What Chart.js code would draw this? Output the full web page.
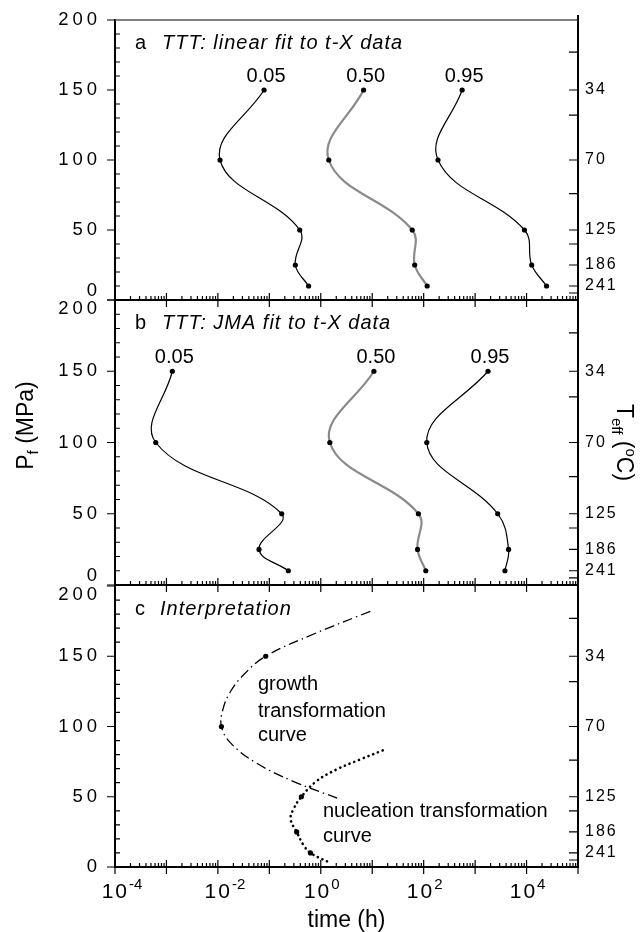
<!DOCTYPE html>
<html><head><meta charset="utf-8">
<script src="https://cdn.jsdelivr.net/npm/chart.js@4"></script>
<style>
html,body{margin:0;padding:0;background:#fff;width:641px;height:932px;overflow:hidden;position:relative}
canvas{position:absolute;left:0}
</style></head>
<body>
<canvas id="ca" width="641" height="330" style="top:0px;width:641px;height:330px"></canvas>
<canvas id="cb" width="641" height="345" style="top:270px;width:641px;height:345px"></canvas>
<canvas id="cc" width="641" height="376" style="top:556px;width:641px;height:376px"></canvas>
<script>
Chart.defaults.font.family = '"Liberation Sans", Arial, Helvetica, sans-serif';
Chart.defaults.color = '#000';

// ---- axis ticks / labels ----
const xDecades = [1e-4, 1e-3, 1e-2, 1e-1, 1, 10, 100, 1e3, 1e4, 1e5];
const xTickBase = '10';
const xTickExp = ['-4', '', '-2', '', '0', '', '2', '', '4', ''];
const yTicks = [0, 50, 100, 150, 200];
const yTickLabels = ['0', '50', '100', '150', '200'];
const tempTickP = [177, 150, 132, 100, 76, 50, 40, 25, 10, 5];
const tempTickLabels = ['', '34', '', '70', '', '125', '', '186', '241', ''];

// ---- data: pressure levels (MPa) and times (h) ----
const pressure = [150, 100, 50, 25, 10];
const fractions = ['0.05', '0.50', '0.95'];
const linear005 = [0.079, 0.011, 0.39, 0.32, 0.58];
const linear050 = [6.8, 1.43, 60, 67, 117];
const linear095 = [560, 190, 9100, 12600, 24500];
const jma005 = [0.0013, 0.00062, 0.174, 0.063, 0.234];
const jma050 = [10.8, 1.5, 79, 76, 110];
const jma095 = [1780, 115, 2750, 4470, 3800];

const growthP = [182, 166, 150, 137, 124, 112, 100, 88, 74, 61, 48];
const growthT = [9.2, 0.75, 0.085, 0.032, 0.017, 0.0125, 0.0117, 0.018, 0.056, 0.29, 2.5];
const growthMarkP = [150, 100];
const growthMarkT = [0.085, 0.0117];
const nuclP = [83, 76.4, 69.3, 61, 50, 40.7, 33.6, 25, 15.7, 10, 2.6];
const nuclT = [16, 5.7, 2.0, 0.82, 0.42, 0.29, 0.26, 0.34, 0.46, 0.63, 1.6];
const nuclMarkP = [50, 25, 10];
const nuclMarkT = [0.42, 0.34, 0.63];

const FONT = '"Liberation Sans", Arial, Helvetica, sans-serif';

function pts(times, ps) { return times.map((t, i) => ({x: t, y: ps[i]})); }

function fracCurve(label, times, color, width) {
  return {label, data: pts(times, pressure), showLine: true, tension: 0.4,
    borderColor: color, borderWidth: width, pointRadius: 2.6, pointHoverRadius: 2.6,
    pointBackgroundColor: '#000', pointBorderWidth: 0};
}

function drawRich(ctx, segs, x, y, rot) {
  ctx.save();
  ctx.translate(x, y); ctx.rotate(rot);
  ctx.textBaseline = 'alphabetic'; ctx.textAlign = 'left';
  let w = 0;
  segs.forEach(s => { ctx.font = s.f; w += ctx.measureText(s.t).width; });
  let cx = -w / 2;
  segs.forEach(s => { ctx.font = s.f; ctx.fillText(s.t, cx, s.dy || 0); cx += ctx.measureText(s.t).width; });
  ctx.restore();
}

const panelPlugin = {
  id: 'panel',
  beforeDraw(chart) {
    const spacing = {y: '4px', y2: '2px'};
    Object.keys(spacing).forEach(id => {
      const s = chart.scales[id];
      if (!s || s._spWrapped) return;
      const orig = s.drawLabels.bind(s);
      s.drawLabels = (ca) => { const c = s.ctx; c.save(); c.letterSpacing = spacing[id]; orig(ca); c.restore(); };
      s._spWrapped = true;
    });
  },
  afterDraw(chart) {
    const cfg = chart.options.plugins.panel;
    const ctx = chart.ctx;
    const {left, right, top, bottom} = chart.chartArea;
    const xs = chart.scales.x, ys = chart.scales.y, y2 = chart.scales.y2;
    ctx.save();
    ctx.strokeStyle = '#000'; ctx.lineWidth = 1.2;
    ctx.beginPath();
    // bottom axis ticks
    xDecades.forEach((d, i) => {
      const px = xs.getPixelForValue(d);
      ctx.moveTo(px, bottom - 7); ctx.lineTo(px, bottom + 7);
      if (i < xDecades.length - 1) {
        for (let k = 2; k <= 9; k++) {
          const p = xs.getPixelForValue(k * d);
          ctx.moveTo(p, bottom); ctx.lineTo(p, bottom - 4);
        }
      }
    });
    // left axis ticks
    for (let v = 0; v <= 200; v += 10) {
      const py = ys.getPixelForValue(v);
      if (v % 50 === 0) { ctx.moveTo(left - 8, py); ctx.lineTo(left, py); }
      else { ctx.moveTo(left, py); ctx.lineTo(left + 5, py); }
    }
    // right axis ticks (inward)
    tempTickP.forEach(v => {
      const py = y2.getPixelForValue(v);
      ctx.moveTo(right - 9, py); ctx.lineTo(right, py);
    });
    ctx.stroke();
    if (cfg.topLine) {
      ctx.strokeStyle = '#555'; ctx.lineWidth = 1.5;
      ctx.beginPath(); ctx.moveTo(left, top); ctx.lineTo(right, top); ctx.stroke();
      ctx.strokeStyle = '#000'; ctx.lineWidth = 2;
      ctx.beginPath(); ctx.moveTo(right, top - 5); ctx.lineTo(right, top); ctx.stroke();
    }
    ctx.fillStyle = '#000'; ctx.textBaseline = 'alphabetic'; ctx.textAlign = 'left';
    // x tick labels 10^n
    if (cfg.xLabels) {
      const bigF = '21px ' + FONT, supF = '15px ' + FONT;
      xDecades.forEach((d, i) => {
        const e = xTickExp[i];
        if (!e) return;
        ctx.font = bigF; ctx.letterSpacing = '2px';
        const wb = ctx.measureText(xTickBase).width;
        ctx.font = supF; ctx.letterSpacing = '0px';
        const we = ctx.measureText(e).width;
        const cx = xs.getPixelForValue(d) + (e[0] === '-' ? 7 : 1);
        const x0 = cx - (wb + we) / 2;
        ctx.font = bigF; ctx.letterSpacing = '2px';
        ctx.fillText(xTickBase, x0, bottom + 31);
        ctx.font = supF; ctx.letterSpacing = '0px';
        ctx.fillText(e, x0 + wb, bottom + 22);
      });
    }
    // panel title
    ctx.font = '20px ' + FONT;
    ctx.fillText(cfg.letter, left + 20, top + 29);
    ctx.font = 'italic 20px ' + FONT;
    ctx.letterSpacing = '1px';
    ctx.fillText(cfg.title, left + cfg.titleX, top + 29);
    ctx.letterSpacing = '0px';
    // curve labels
    ctx.font = '20px ' + FONT; ctx.textAlign = 'center';
    chart.data.datasets.forEach((ds, i) => {
      if (!fractions.includes(ds.label)) return;
      const p = chart.getDatasetMeta(i).data[0];
      ctx.fillText(ds.label, p.x + 2, p.y - 8);
    });
    // free text
    ctx.textAlign = 'left';
    (cfg.notes || []).forEach(n => ctx.fillText(n.t, left + n.dx, top + n.dy));
    // axis titles
    if (cfg.axisTitles) {
      const mid = (top + bottom) / 2;
      const big = '23px ' + FONT, small = '15px ' + FONT;
      drawRich(ctx, [{t: 'P', f: big}, {t: 'f', f: small, dy: 5}, {t: ' (MPa)', f: big}], 33, mid - 17, -Math.PI / 2);
      drawRich(ctx, [{t: 'T', f: big}, {t: 'eff', f: small, dy: 5}, {t: ' (', f: big}, {t: 'o', f: small, dy: -9}, {t: 'C)', f: big}], 617, mid, Math.PI / 2);
    }
    ctx.restore();
  }
};

function makePanel(id, cfg, datasets) {
  const zeroPad = s => { s.paddingTop = 0; s.paddingBottom = 0; s.paddingLeft = 0; s.paddingRight = 0; };
  return new Chart(document.getElementById(id), {
    type: 'scatter',
    data: {datasets},
    plugins: [panelPlugin],
    options: {
      responsive: false, maintainAspectRatio: false, animation: false,
      devicePixelRatio: 1,
      events: [],
      layout: {padding: {top: cfg.padTop, left: 0, right: 0, bottom: 0}},
      plugins: {legend: {display: false}, tooltip: {enabled: false}, panel: cfg},
      scales: {
        x: {
          type: 'logarithmic', position: 'bottom', min: 1e-4, max: 1e5,
          afterBuildTicks: s => { s.ticks = xDecades.map(v => ({value: v})); },
          afterFit: s => { s.height = cfg.xHeight; zeroPad(s); },
          grid: {display: false, drawTicks: false},
          border: {display: true, color: '#000', width: 2},
          ticks: {display: false},
          title: {display: cfg.xLabels, text: 'time (h)', font: {size: 23, lineHeight: 1}, padding: 0, color: '#000'}
        },
        y: {
          type: 'linear', position: 'left', min: 0, max: 200,
          afterBuildTicks: s => { s.ticks = yTicks.map(v => ({value: v})); },
          afterFit: s => { s.width = 115; zeroPad(s); },
          grid: {display: false, drawTicks: false},
          border: {display: true, color: '#000', width: 2},
          ticks: {padding: 14, font: {size: 18.5, lineHeight: 1},
            callback: v => {
              const lab = yTickLabels[yTicks.indexOf(v)];
              if (v === 200 && cfg.shiftTop) return ['', lab];
              if (v === 0 && cfg.shiftBottom) return [lab, ''];
              return lab;
            }}
        },
        y2: {
          type: 'linear', position: 'right', min: 0, max: 200,
          afterBuildTicks: s => { s.ticks = tempTickP.map(v => ({value: v})); },
          afterFit: s => { s.width = 63; zeroPad(s); },
          grid: {display: false, drawTicks: false},
          border: {display: true, color: '#000', width: 2},
          ticks: {padding: 7, font: {size: 16}, autoSkip: false,
            callback: v => tempTickLabels[tempTickP.indexOf(v)] || ''}
        }
      }
    }
  });
}

makePanel('ca', {letter: 'a', title: 'TTT: linear fit to t-X data', titleX: 47, padTop: 20, xHeight: 30,
  shiftTop: false, shiftBottom: true, xLabels: false, topLine: true}, [
  fracCurve('0.05', linear005, '#000', 1.2),
  fracCurve('0.50', linear050, '#8a8a8a', 2.2),
  fracCurve('0.95', linear095, '#000', 1.2)
]);

makePanel('cb', {letter: 'b', title: 'TTT: JMA fit to t-X data', titleX: 47, padTop: 30, xHeight: 30,
  shiftTop: true, shiftBottom: true, xLabels: false, axisTitles: true}, [
  fracCurve('0.05', jma005, '#000', 1.2),
  fracCurve('0.50', jma050, '#8a8a8a', 2.2),
  fracCurve('0.95', jma095, '#000', 1.2)
]);

makePanel('cc', {letter: 'c', title: 'Interpretation', titleX: 45, padTop: 30, xHeight: 65,
  shiftTop: true, shiftBottom: false, xLabels: true,
  notes: [
    {t: 'growth', dx: 143, dy: 104},
    {t: 'transformation', dx: 143, dy: 131},
    {t: 'curve', dx: 143, dy: 155},
    {t: 'nucleation transformation', dx: 208, dy: 231},
    {t: 'curve', dx: 208, dy: 256}
  ]}, [
  {label: 'growth', data: pts(growthT, growthP), showLine: true, tension: 0.4, borderColor: '#000',
    borderWidth: 1.3, borderDash: [10, 4, 1.5, 4], pointRadius: 0},
  {label: 'nucleation', data: pts(nuclT, nuclP), showLine: true, tension: 0.4, borderColor: '#000',
    borderWidth: 2.6, borderDash: [0.1, 5], borderCapStyle: 'round', pointRadius: 0},
  {label: 'growth points', data: pts(growthMarkT, growthMarkP), showLine: false, pointRadius: 2.6,
    pointBackgroundColor: '#000', pointBorderWidth: 0},
  {label: 'nucleation points', data: pts(nuclMarkT, nuclMarkP), showLine: false, pointRadius: 2.6,
    pointBackgroundColor: '#000', pointBorderWidth: 0}
]);
</script>
</body></html>
